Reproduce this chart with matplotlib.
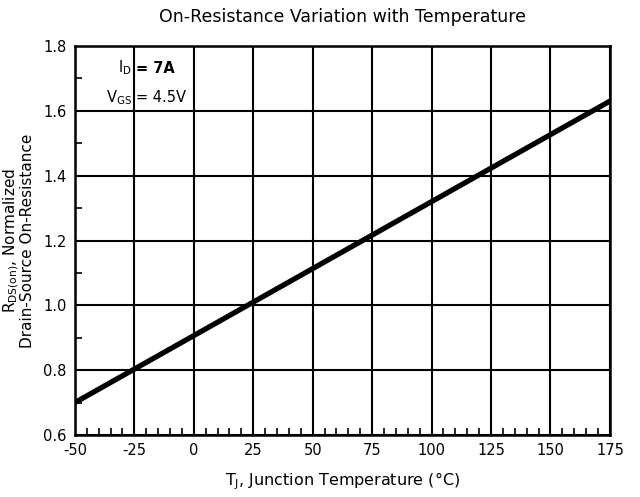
import matplotlib
matplotlib.use("Agg")
import matplotlib.pyplot as plt
from matplotlib.ticker import MultipleLocator

plt.rcParams["font.family"] = ["DejaVu Sans"]
plt.rcParams["mathtext.default"] = "regular"

# --- Data ---
temps = [-50, 175]          # junction temperature (degC)
r_norm = [0.70, 1.63]       # normalized on-resistance
x_ticks = [-50, -25, 0, 25, 50, 75, 100, 125, 150, 175]
y_ticks = [0.6, 0.8, 1.0, 1.2, 1.4, 1.6, 1.8]

fig = plt.figure(figsize=(6.4, 4.97), dpi=100)
ax = fig.add_axes([0.117, 0.1247, 0.836, 0.7827])

ax.plot(temps, r_norm, color="black", linewidth=3.8, solid_capstyle="round")

ax.set_xlim(-50, 175)
ax.set_ylim(0.6, 1.8)
ax.set_xticks(x_ticks)
ax.set_xticklabels([str(t) for t in x_ticks])
ax.set_yticks(y_ticks)
ax.set_yticklabels([f"{v:.1f}" for v in y_ticks])
ax.xaxis.set_minor_locator(MultipleLocator(5))
ax.yaxis.set_minor_locator(MultipleLocator(0.1))
ax.tick_params(which="major", length=0, labelsize=10.5, pad=6)
ax.tick_params(which="minor", direction="in", length=5, width=1.2)
ax.tick_params(axis="x", which="minor", top=False)
ax.tick_params(axis="y", which="minor", right=False)
ax.grid(True, which="major", color="black", linewidth=1.5)
for s in ax.spines.values():
    s.set_linewidth(1.8)

# condition labels, aligned on the "=" sign
ax.text(-26, 1.732, "I$_D$", fontsize=10.5, ha="right", va="center")
ax.text(-24.5, 1.732, "= 7A", fontsize=10.5, ha="left", va="center", fontweight="bold")
ax.text(-26, 1.64, "V$_{GS}$", fontsize=10.5, ha="right", va="center")
ax.text(-24.5, 1.64, "= 4.5V", fontsize=10.5, ha="left", va="center")

ax.set_title("On-Resistance Variation with Temperature", fontsize=12.5, pad=17)
ax.set_xlabel("T$_J$, Junction Temperature (°C)", fontsize=11.5, labelpad=9)
ax.set_ylabel("R$_{DS(on)}$, Normalized\nDrain-Source On-Resistance", fontsize=11,
              labelpad=6, linespacing=0.9)

fig.savefig("out.png", dpi=100)
